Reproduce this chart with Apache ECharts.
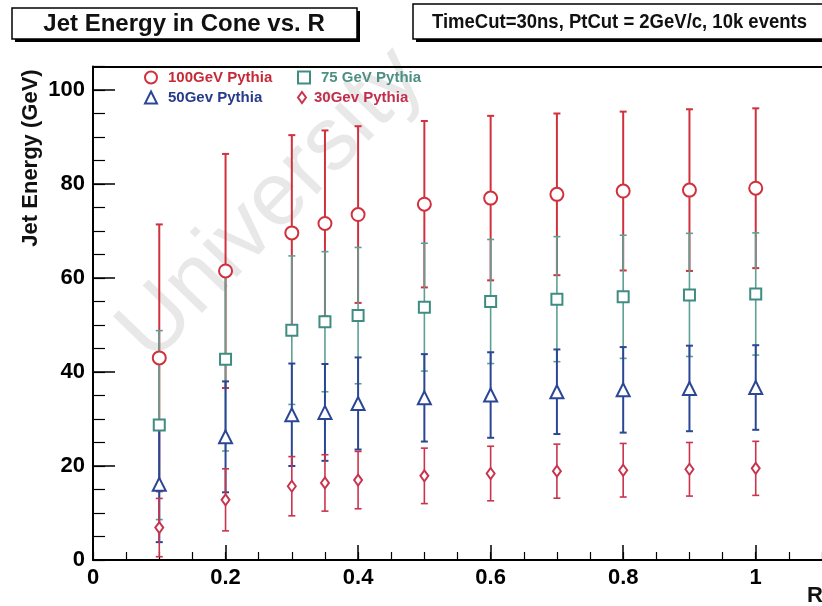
<!DOCTYPE html>
<html>
<head>
<meta charset="utf-8">
<script src="https://cdn.jsdelivr.net/npm/echarts@6/dist/echarts.min.js"></script>
<style>
  html, body { margin: 0; padding: 0; background: #fff; }
  #main { width: 822px; height: 606px; }
</style>
</head>
<body>
<div id="main"></div>
<script>
var chartDom = document.getElementById('main');
var myChart = echarts.init(chartDom);
var option;

var FONT = '"Liberation Sans", Arial, Helvetica, sans-serif';

// cone radius R
let radii = [0.1, 0.2, 0.3, 0.35, 0.4, 0.5, 0.6, 0.7, 0.8, 0.9, 1.0];

// mean jet energy in cone (GeV) and error bar half-width
let e100 = [43.0, 61.5, 69.6, 71.6, 73.5, 75.7, 77.0, 77.8, 78.5, 78.7, 79.1];
let err100 = [28.4, 24.9, 20.8, 19.8, 18.8, 17.7, 17.5, 17.2, 16.9, 17.2, 17.0];

let e75 = [28.7, 42.7, 48.9, 50.7, 52.0, 53.8, 55.0, 55.5, 56.0, 56.4, 56.6];
let err75 = [20.1, 19.5, 15.8, 14.9, 14.5, 13.6, 13.2, 13.3, 13.1, 13.1, 13.0];

let e50 = [16.1, 26.2, 30.9, 31.4, 33.3, 34.5, 35.1, 35.8, 36.2, 36.5, 36.7];
let err50 = [12.3, 11.8, 10.9, 10.3, 9.8, 9.3, 9.1, 9.0, 9.1, 9.1, 9.0];

let e30 = [6.9, 12.8, 15.7, 16.4, 17.0, 17.9, 18.4, 18.9, 19.1, 19.3, 19.5];
let err30 = [6.2, 6.6, 6.3, 6.0, 6.1, 5.9, 5.8, 5.75, 5.7, 5.7, 5.75];

let names = ['100GeV Pythia', '75 GeV Pythia', '50Gev Pythia', '30Gev Pythia'];

function points(vals) {
    return radii.map(function(r, i) { return [r, vals[i]]; });
}

function bars(vals, errs) {
    return radii.map(function(r, i) { return [r, vals[i], errs[i]]; });
}

function errorBars(color, width) {
    return function(params, api) {
        var x = api.value(0), y = api.value(1), e = api.value(2);
        var hi = api.coord([x, y + e]);
        var lo = api.coord([x, y - e]);
        var c = 3.5;
        var st = { stroke: color, lineWidth: width };
        return {
            type: 'group',
            children: [
                { type: 'line', shape: { x1: hi[0], y1: hi[1], x2: lo[0], y2: lo[1] }, style: st },
                { type: 'line', shape: { x1: hi[0] - c, y1: hi[1], x2: hi[0] + c, y2: hi[1] }, style: st },
                { type: 'line', shape: { x1: lo[0] - c, y1: lo[1], x2: lo[0] + c, y2: lo[1] }, style: st }
            ]
        };
    };
}

function errSeries(vals, errs, color, width) {
    return {
        type: 'custom',
        name: 'err',
        renderItem: errorBars(color, width),
        encode: { x: 0, y: 1 },
        data: bars(vals, errs),
        silent: true
    };
}

function markSeries(name, vals, symbol, size, color) {
    return {
        type: 'scatter',
        name: name,
        data: points(vals),
        symbol: symbol,
        symbolSize: size,
        itemStyle: { color: '#fff', borderColor: color, borderWidth: 2, opacity: 1 }
    };
}

function legendAt(left, top, name, icon, color, w, h, pad) {
    return {
        left: left, top: top, padding: 0,
        itemWidth: w, itemHeight: h,
        data: [{ name: name, icon: icon, textStyle: { color: color } }],
        textStyle: { fontSize: 15, fontWeight: 'bold', fontFamily: FONT, padding: [0, 0, 0, pad] }
    };
}

var axisBlack = { color: '#000', width: 2 };

option = {
    backgroundColor: '#fff',
    animation: false,
    grid: { left: 93, right: -2, top: 66.5, bottom: 46 },
    legend: [
        legendAt(144, 70, names[0], 'circle', '#c62a37', 12, 12, 6),
        legendAt(297, 70, names[1], 'rect', '#4d8f84', 12, 12, 6),
        legendAt(144, 90, names[2], 'triangle', '#263c8a', 12, 12, 6),
        legendAt(297, 90, names[3], 'diamond', '#c22e4c', 8, 11, 3)
    ],
    xAxis: [{
        type: 'value', min: 0, max: 1.1, interval: 0.2,
        position: 'bottom',
        axisLine: { onZero: false, lineStyle: axisBlack },
        axisTick: { inside: true, length: 15, lineStyle: { color: '#000', width: 1.5 } },
        splitLine: { show: false },
        axisLabel: {
            color: '#000', fontSize: 22, fontWeight: 'bold', fontFamily: FONT,
            margin: 7, showMaxLabel: false,
            formatter: function(v) { return String(Math.round(v * 10) / 10); }
        }
    }, {
        // minor ticks every 0.05
        type: 'value', min: 0, max: 1.1, interval: 0.05,
        position: 'bottom',
        axisLine: { show: false, onZero: false },
        axisTick: { inside: true, length: 8, lineStyle: { color: '#000', width: 1.2 } },
        axisLabel: { show: false },
        splitLine: { show: false }
    }, {
        // top frame
        type: 'value', min: 0, max: 1.1,
        position: 'top',
        axisLine: { onZero: false, lineStyle: axisBlack },
        axisTick: { show: false },
        axisLabel: { show: false },
        splitLine: { show: false }
    }],
    yAxis: [{
        type: 'value', min: 0, max: 105, interval: 20,
        position: 'left',
        axisLine: { onZero: false, lineStyle: axisBlack },
        axisTick: { inside: true, length: 22, lineStyle: { color: '#000', width: 1.5 } },
        splitLine: { show: false },
        axisLabel: {
            color: '#000', fontSize: 22, fontWeight: 'bold', fontFamily: FONT,
            margin: 8, showMaxLabel: false
        }
    }, {
        // minor ticks every 5 GeV
        type: 'value', min: 0, max: 105, interval: 5,
        position: 'left',
        axisLine: { show: false, onZero: false },
        axisTick: { inside: true, length: 12, lineStyle: { color: '#000', width: 1.2 } },
        axisLabel: { show: false },
        splitLine: { show: false }
    }],
    graphic: [
        {
            type: 'text', x: 272, y: 205, rotation: 46 * Math.PI / 180, z: -10, silent: true,
            style: { text: 'University', fontSize: 90, fontFamily: FONT,
                     fill: 'rgba(190,190,190,0.35)', align: 'center', verticalAlign: 'middle' }
        },
        { type: 'rect', z: 100, shape: { x: 15, y: 11, width: 345, height: 31 }, style: { fill: '#000' } },
        { type: 'rect', z: 101, shape: { x: 12, y: 8, width: 345, height: 31 },
          style: { fill: '#fff', stroke: '#000', lineWidth: 1.5 } },
        { type: 'text', z: 102, x: 184, y: 24,
          style: { text: 'Jet Energy in Cone vs. R', font: 'bold 24px ' + FONT,
                   fill: '#111', align: 'center', verticalAlign: 'middle' } },
        { type: 'rect', z: 100, shape: { x: 416, y: 7, width: 420, height: 35 }, style: { fill: '#000' } },
        { type: 'rect', z: 101, shape: { x: 413, y: 4, width: 420, height: 35 },
          style: { fill: '#fff', stroke: '#000', lineWidth: 1.5 } },
        { type: 'text', z: 102, x: 432, y: 22, scaleX: 0.925,
          style: { text: 'TimeCut=30ns, PtCut = 2GeV/c, 10k events', font: 'bold 20px ' + FONT,
                   fill: '#111', verticalAlign: 'middle' } },
        { type: 'text', x: 31, y: 158, rotation: Math.PI / 2,
          style: { text: 'Jet Energy (GeV)', font: 'bold 22px ' + FONT,
                   fill: '#111', align: 'center', verticalAlign: 'middle' } },
        { type: 'text', x: 815, y: 596,
          style: { text: 'R', font: 'bold 22px ' + FONT, fill: '#111',
                   align: 'center', verticalAlign: 'middle' } }
    ],
    series: [
        errSeries(e100, err100, '#d0313d', 2),
        markSeries(names[0], e100, 'circle', 13, '#d0313d'),
        errSeries(e75, err75, '#5e9f95', 1.6),
        markSeries(names[1], e75, 'rect', 11, '#3f8c82'),
        errSeries(e50, err50, '#2b4695', 2),
        markSeries(names[2], e50, 'triangle', 13, '#2b4695'),
        errSeries(e30, err30, '#c9344d', 1.6),
        markSeries(names[3], e30, 'diamond', [8, 11], '#c9344d')
    ]
};

option && myChart.setOption(option);
</script>
</body>
</html>
